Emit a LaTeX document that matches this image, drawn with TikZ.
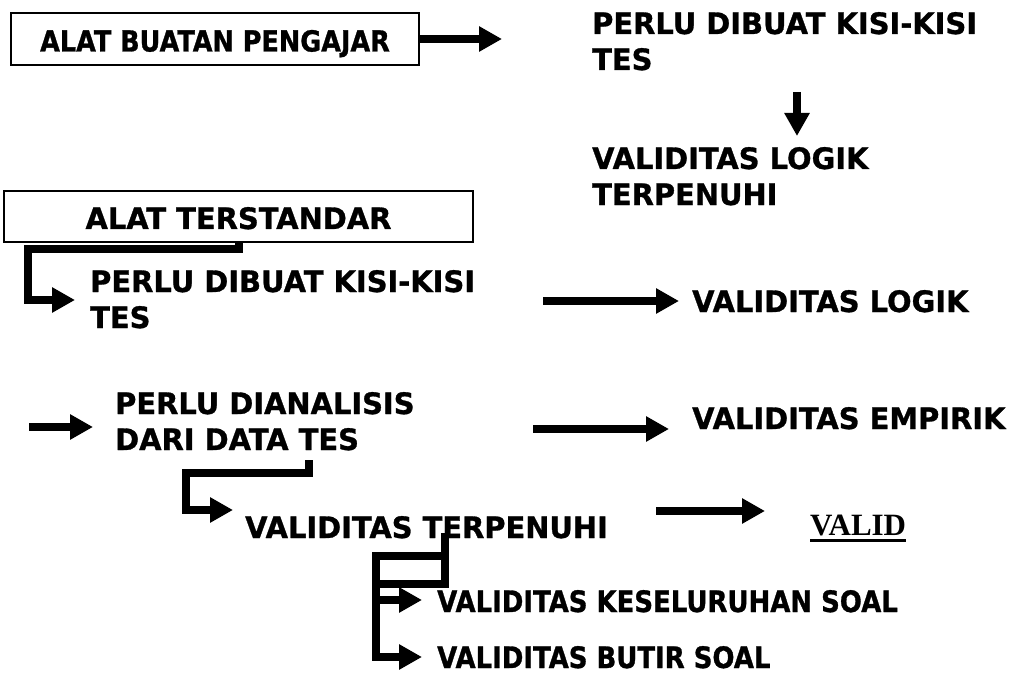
\documentclass[tikz,border=0pt]{standalone}
\usepackage{fontspec}
\newfontfamily\diagfont{DejaVu Sans Bold}[FakeStretch=0.98, FakeBold=1]
\newfontfamily\diagfontnarrow{DejaVu Sans Bold}[FakeStretch=0.88, FakeBold=1]
\newfontfamily\validfont{Liberation Serif}
\usetikzlibrary{arrows.meta}
\tikzset{txt/.style={anchor=base west, inner sep=0pt, align=left, font=\diagfont\fontsize{29.5}{36}\selectfont}}
\tikzset{narrowtxt/.style={txt, font=\diagfontnarrow\fontsize{29.5}{36}\selectfont}}
\tikzset{tbox/.style={draw, line width=1.5pt, inner sep=0pt, text height=25pt, text depth=0pt, font=\diagfont\fontsize{29.5}{36}\selectfont}}
\tikzset{validtxt/.style={anchor=base west, inner sep=0pt, font=\validfont\bfseries\fontsize{31}{36}\selectfont}}
\tikzset{fatline/.style={line width=8pt}}
\tikzset{fatarrow/.style={line width=8pt, -{Triangle[length=23pt,width=24pt]}}}

\begin{document}
\begin{tikzpicture}[x=1pt,y=-1pt]
\useasboundingbox (0,0) rectangle (1018,674);

\node (buatan) at (215,39)[tbox, minimum width=408pt, minimum height=52pt, font=\diagfontnarrow\fontsize{29}{36}\selectfont]{ALAT BUATAN PENGAJAR};
\node (kisiA) at (592,70)[txt]{PERLU DIBUAT KISI-KISI\\TES};
\node (logikA) at (592,205)[txt]{VALIDITAS LOGIK\\TERPENUHI};
\node (standar) at (238.5,216.5)[tbox, minimum width=469pt, minimum height=51pt]{ALAT TERSTANDAR};
\node (kisiB) at (90,328)[txt]{PERLU DIBUAT KISI-KISI\\TES};
\node (logikB) at (692,312)[txt]{VALIDITAS LOGIK};
\node (analisis) at (115,450)[txt]{PERLU DIANALISIS\\DARI DATA TES};
\node (empirik) at (692,429)[txt]{VALIDITAS EMPIRIK};
\node (terpenuhi) at (245,538)[txt]{VALIDITAS TERPENUHI};
\node (valid) at (810,535)[validtxt]{VALID};
\node (keseluruhan) at (437,612)[narrowtxt]{VALIDITAS KESELURUHAN SOAL};
\node (butir) at (437,668)[narrowtxt]{VALIDITAS BUTIR SOAL};

% free ends of the arrows
\coordinate (kisiAin) at (502,39);
\coordinate (kisiAout) at (797,92);
\coordinate (logikAin) at (797,136);
\coordinate (standarknee) at (28,249);
\coordinate (kisiBin) at (75,300);
\coordinate (logikBout) at (543,301);
\coordinate (logikBin) at (679,301);
\coordinate (analisisfrom) at (29,427);
\coordinate (analisisin) at (93,427);
\coordinate (analisisout) at (309,460);
\coordinate (analisisknee) at (186,473);
\coordinate (terpenuhiin) at (233,510);
\coordinate (empirikout) at (533,429);
\coordinate (empirikin) at (669,429);
\coordinate (validout) at (656,511);
\coordinate (validin) at (765,511);
\coordinate (stubtop) at (445,533);
\coordinate (stubbot) at (445,584);
\coordinate (stubmid) at (445,556);
\coordinate (forkbot) at (376,584);
\coordinate (forkmid) at (376,600);
\coordinate (keseluruhanin) at (422,600);
\coordinate (butirin) at (422,657);

\draw[fatarrow] (buatan.east|-kisiAin)--(kisiAin);
\draw[fatarrow] (kisiAout)--(logikAin);
\draw[fatarrow] (standar.south)|-(standarknee)|-(kisiBin);
\draw[fatarrow] (logikBout)--(logikBin);
\draw[fatarrow] (analisisfrom)--(analisisin);
\draw[fatarrow] (empirikout)--(empirikin);
\draw[fatarrow] (analisisout)|-(analisisknee)|-(terpenuhiin);
\draw[fatarrow] (validout)--(validin);
\draw[line width=3pt] ([yshift=-4.5pt]valid.south west)--([yshift=-4.5pt]valid.south east);

%bracket under VALIDITAS TERPENUHI
\draw[fatline] (stubtop)--(stubbot)--(forkbot);
\draw[fatarrow] (stubmid)-|(forkbot)|-(butirin);
\draw[fatarrow] (forkmid)--(keseluruhanin);

\end{tikzpicture}
\end{document}
